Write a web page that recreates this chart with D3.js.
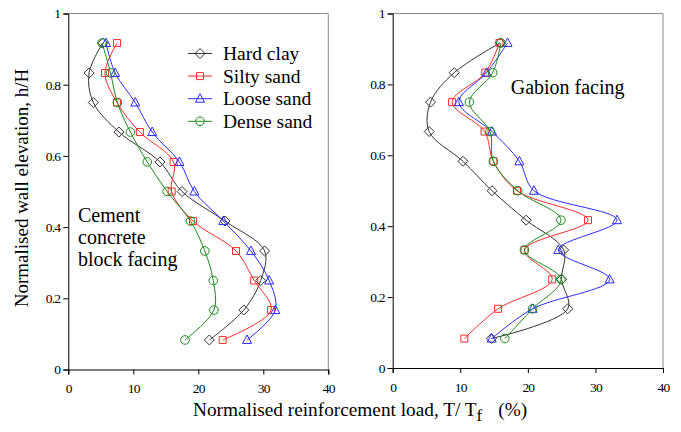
<!DOCTYPE html>
<html><head><meta charset="utf-8">
<script src="https://cdn.jsdelivr.net/npm/d3@7"></script>
<style>
html,body{margin:0;padding:0;background:#fff;}
svg{display:block;font-family:"Liberation Serif","Times New Roman",serif;}
svg text{font-family:"Liberation Serif","Times New Roman",serif;}
</style></head>
<body>
<svg id="c" width="681" height="432"></svg>
<script>
// ---- data ----
const heights = [0.917, 0.833, 0.75, 0.667, 0.583, 0.5, 0.417, 0.333, 0.25, 0.167, 0.083];
const seriesNames = ["Hard clay", "Silty sand", "Loose sand", "Dense sand"];
const cementHardClay  = [5.3, 3.2, 3.85, 7.8, 14.1, 17.5, 24.1, 30.2, 29.6, 27.0, 21.7];
const cementSiltySand = [7.5, 5.65, 7.5, 11.0, 16.2, 15.9, 19.2, 25.8, 28.6, 31.2, 23.75];
const cementLooseSand = [5.8, 7.2, 10.3, 12.9, 17.1, 19.4, 23.85, 28.1, 30.9, 31.85, 27.5];
const cementDenseSand = [5.2, 6.5, 7.55, 9.55, 12.15, 15.2, 18.8, 21.0, 22.3, 22.4, 17.95];
const gabionHardClay  = [15.9, 9.1, 5.6, 5.4, 10.4, 14.7, 19.75, 25.3, 25.0, 25.9, 14.6];
const gabionSiltySand = [15.8, 13.7, 8.8, 13.6, 14.9, 18.4, 28.9, 19.5, 23.6, 15.6, 10.6];
const gabionLooseSand = [17.0, 13.9, 9.8, 14.7, 18.75, 20.9, 33.2, 24.5, 32.1, 20.7, 14.65];
const gabionDenseSand = [16.0, 14.8, 11.35, 14.4, 14.9, 18.5, 24.9, 19.5, 24.9, 20.7, 16.6];
const xTicks = [0, 10, 20, 30, 40];
const yTicks = [0, 0.2, 0.4, 0.6, 0.8, 1];

// ---- styles ----
const colors = ["#333333", "#ff2a2a", "#2a2aff", "#1a8a1a"];
const markers = ["diamond", "square", "triangle", "circle"];
const serif = "'Liberation Serif','Times New Roman',serif";

const svg = d3.select("#c");

function markerPath(type){
  if(type==="diamond") return "M0,-5L5,0L0,5L-5,0Z";
  if(type==="square") return "M-3.5,-3.5H3.5V3.5H-3.5Z";
  if(type==="triangle") return "M0,-5L4.5,3.5H-4.5Z";
  return d3.arc()({innerRadius:0,outerRadius:4.3,startAngle:0,endAngle:2*Math.PI});
}

function panel(cfg){
  const x = d3.scaleLinear().domain([0,40]).range([cfg.x0, cfg.x1]);
  const y = d3.scaleLinear().domain([0,1]).range([cfg.y0, cfg.y1]);
  const g = svg.append("g");
  g.append("path").attr("d",`M${cfg.x0},${cfg.y1}H${cfg.x1}V${cfg.y0}`)
    .attr("fill","none").attr("stroke","#8c8c8c").attr("stroke-width",1);
  const ya = g.append("g").attr("transform",`translate(${cfg.x0},0)`)
    .call(d3.axisLeft(y).tickValues(yTicks).tickFormat(d=>d===0?"0":d===1?"1":d3.format(".1f")(d)).tickSize(5).tickPadding(3));
  const xa = g.append("g").attr("transform",`translate(0,${cfg.y0})`)
    .call(d3.axisBottom(x).tickValues(xTicks).tickSize(5).tickPadding(9));
  [ya,xa].forEach(a=>{
    a.attr("font-family",null).style("font-family",serif);
    a.select(".domain").attr("stroke","#000");
    a.selectAll(".tick line").attr("stroke","#000");
    a.selectAll("text").style("font-family",serif).attr("font-size",13.5)
      .attr("fill","#000").style("letter-spacing","-0.8px");
  });
  const line = d3.line().x(d=>x(d[0])).y(d=>y(d[1])).curve(d3.curveCatmullRom.alpha(0.5));
  cfg.series.forEach((vals,i)=>{
    const pts = vals.map((v,j)=>[v,heights[j]]);
    g.append("path").attr("d",line(pts)).attr("fill","none")
      .attr("stroke",colors[i]).attr("stroke-width",1);
    g.selectAll(null).data(pts).enter().append("path")
      .attr("d",markerPath(markers[i]))
      .attr("transform",d=>`translate(${x(d[0])},${y(d[1])})`)
      .attr("fill","none").attr("stroke",colors[i]).attr("stroke-width",1);
  });
  return {x,y,g};
}

panel({x0:68.3,x1:328.3,y0:369.5,y1:13.5,
  series:[cementHardClay,cementSiltySand,cementLooseSand,cementDenseSand]});
panel({x0:392.7,x1:663,y0:368,y1:13.5,
  series:[gabionHardClay,gabionSiltySand,gabionLooseSand,gabionDenseSand]});

// legend
const lg = svg.append("g");
seriesNames.forEach((n,i)=>{
  const cy = 53.5 + i*22.6;
  lg.append("line").attr("x1",188).attr("x2",212).attr("y1",cy).attr("y2",cy)
    .attr("stroke",colors[i]).attr("stroke-width",1);
  lg.append("path").attr("d",markerPath(markers[i])).attr("transform",`translate(200,${cy})`)
    .attr("fill","none").attr("stroke",colors[i]);
  lg.append("text").attr("x",223).attr("y",cy+6.5).attr("font-size",19.5).text(n);
});

// panel labels
["Cement","concrete","block facing"].forEach((t,i)=>{
  svg.append("text").attr("x",78).attr("y",221.7+i*22.2).attr("font-size",20).text(t);
});
svg.append("text").attr("x",510.7).attr("y",94).attr("font-size",20).text("Gabion facing");

// axis titles
svg.append("text").attr("transform","translate(28,188) rotate(-90)")
  .attr("text-anchor","middle").attr("font-size",19).text("Normalised wall elevation, h/H");
const xt = svg.append("text").attr("x",193).attr("y",416).attr("font-size",19.3);
xt.append("tspan").text("Normalised reinforcement load, T/ T");
xt.append("tspan").attr("dy",5).attr("font-size",17).text("f");
xt.append("tspan").attr("dy",-5).attr("dx",16).text("(%)");
</script>
</body></html>
